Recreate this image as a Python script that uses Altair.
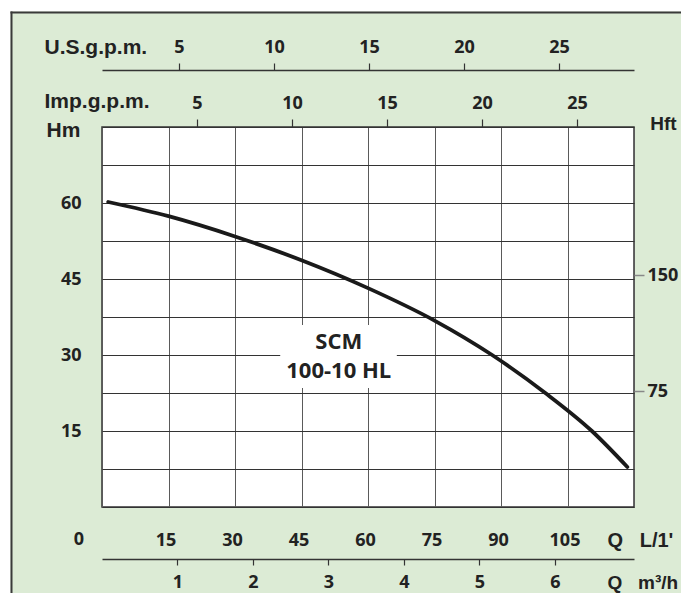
import altair as alt
import pandas as pd

# ---- data ----
flow_lpm = [1.4, 15, 30, 45, 60, 75, 88, 100, 110.5, 118.5]
head_m = [60.2, 57.4, 53.4, 48.7, 43.2, 36.8, 30.0, 22.5, 15.0, 7.9]

lpm_domain = [0, 120]
lpm_grid = [0, 15, 30, 45, 60, 75, 90, 105, 120]
hm_domain = [0, 75]
hm_grid = [0, 7.5, 15, 22.5, 30, 37.5, 45, 52.5, 60, 67.5, 75]
usgpm_domain = [0.95, 28.95]
usgpm_ticks = [5, 10, 15, 20, 25]
impgpm_domain = [0, 28]
impgpm_ticks = [5, 10, 15, 20, 25]
m3h_domain = [0, 7.05]
m3h_ticks = [1, 2, 3, 4, 5, 6]
hft_domain = [0, 246.06]
hft_ticks = [75, 150]

model_label = ["SCM\n100-10 HL"]
label_pos_q = [53.4]
label_pos_h = [32.6]
box_q = [40.2, 66.5]
box_h = [23.5, 35.9]
origin_label = ["0"]

NUM_FONT = "Open Sans"
TITLE_FONT = "Liberation Sans Narrow, Arial Narrow, Liberation Sans"
INK = "#222222"
NB = "\u00a0"

curve_df = pd.DataFrame({"q": flow_lpm, "h": head_m})
dummy = pd.DataFrame({"a": [0]})


def xs():
    return alt.Scale(domain=lpm_domain, nice=False, zero=False)


def ys():
    return alt.Scale(domain=hm_domain, nice=False, zero=False)


x_axis = alt.Axis(
    orient="bottom", values=lpm_grid,
    labelExpr="(datum.value > 0 && datum.value < 120) ? datum.label : ''",
    grid=True, gridColor="#5a5a5a", gridWidth=1,
    ticks=False, tickSize=0, domain=False,
    labelPadding=33, labelBaseline="middle", labelOffset=-3,
    title="Q" + NB * 3 + "L/1'", titleX=505, titleY=33, titleAlign="left",
    titleBaseline="middle", titleAngle=0, titleFontSize=20,
)
y_axis = alt.Axis(
    orient="left", values=hm_grid,
    labelExpr="(datum.value % 15 == 0 && datum.value > 0 && datum.value < 75) ? datum.label : ''",
    grid=True, gridColor="#333333", gridWidth=1,
    ticks=False, tickSize=0, domain=False,
    labelPadding=21, labelBaseline="middle",
    title="Hm", titleX=-39, titleY=3, titleAngle=0,
    titleAlign="center", titleBaseline="middle",
)

# decorations: white page strips and dark frame of the green panel
strip_top = alt.Chart(dummy).mark_rect(color="white").encode(
    x=alt.value(-110), x2=alt.value(700), y=alt.value(-130), y2=alt.value(-115.5))
strip_left = alt.Chart(dummy).mark_rect(color="white").encode(
    x=alt.value(-110), x2=alt.value(-91.5), y=alt.value(-130), y2=alt.value(600))
frame_top = alt.Chart(dummy).mark_rule(color="#3a3a3a", strokeWidth=2).encode(
    x=alt.value(-91.5), x2=alt.value(700), y=alt.value(-114.5))
frame_left = alt.Chart(dummy).mark_rule(color="#3a3a3a", strokeWidth=2).encode(
    x=alt.value(-90.5), y=alt.value(-115.5), y2=alt.value(600))

curve = alt.Chart(curve_df).mark_line(
    color="#1a1a1a", strokeWidth=3.8, interpolate="monotone", strokeCap="round").encode(
    x=alt.X("q:Q", scale=xs(), axis=x_axis),
    y=alt.Y("h:Q", scale=ys(), axis=y_axis),
)

box = alt.Chart(pd.DataFrame({"q1": [box_q[0]], "q2": [box_q[1]],
                              "h1": [box_h[0]], "h2": [box_h[1]]})).mark_rect(
    color="white").encode(
    x=alt.X("q1:Q", scale=xs(), axis=None), x2="q2",
    y=alt.Y("h1:Q", scale=ys(), axis=None), y2="h2")

label = alt.Chart(pd.DataFrame({"q": label_pos_q, "h": label_pos_h, "t": model_label})).mark_text(
    lineBreak="\n", font=NUM_FONT, fontSize=22, fontWeight="bold", color=INK,
    lineHeight=29, baseline="middle", align="center").encode(
    x=alt.X("q:Q", scale=xs(), axis=None),
    y=alt.Y("h:Q", scale=ys(), axis=None),
    text="t:N")

zero = alt.Chart(pd.DataFrame({"q": [0], "h": [0], "t": origin_label})).mark_text(
    font=NUM_FONT, fontSize=18, fontWeight="bold", color=INK,
    dx=-23, dy=33, baseline="middle", align="center").encode(
    x=alt.X("q:Q", scale=xs(), axis=None),
    y=alt.Y("h:Q", scale=ys(), axis=None),
    text="t:N")

m3h_layer = alt.Chart(pd.DataFrame({"v": m3h_domain})).mark_point(opacity=0).encode(
    x=alt.X("v:Q", scale=alt.Scale(domain=m3h_domain, nice=False, zero=False),
            axis=alt.Axis(orient="bottom", offset=52, values=m3h_ticks, grid=False,
                          domain=True, domainColor="#333333", domainWidth=1.5,
                          ticks=True, tickSize=6, tickColor="#333333", tickWidth=1.2,
                          labelPadding=17, labelBaseline="middle",
                          title="Q" + NB * 3 + "m³/h", titleX=505, titleY=23, titleAlign="left",
                          titleBaseline="middle", titleAngle=0, titleFontSize=19)))

us_layer = alt.Chart(pd.DataFrame({"v": usgpm_domain})).mark_point(opacity=0).encode(
    x=alt.X("v:Q", scale=alt.Scale(domain=usgpm_domain, nice=False, zero=False),
            axis=alt.Axis(orient="top", offset=57, values=usgpm_ticks, grid=False,
                          domain=True, domainColor="#333333", domainWidth=1.5,
                          ticks=True, tickSize=7, tickColor="#333333", tickWidth=1.2,
                          labelPadding=16, labelBaseline="middle",
                          title="U.S.g.p.m.", titleX=-58, titleY=-23, titleAlign="left",
                          titleBaseline="middle", titleAngle=0)))

imp_layer = alt.Chart(pd.DataFrame({"v": impgpm_domain})).mark_point(opacity=0).encode(
    x=alt.X("v:Q", scale=alt.Scale(domain=impgpm_domain, nice=False, zero=False),
            axis=alt.Axis(orient="top", offset=0, values=impgpm_ticks, grid=False,
                          domain=False,
                          ticks=True, tickSize=8, tickColor="#333333", tickWidth=1.2,
                          labelPadding=16, labelBaseline="middle",
                          title="Imp.g.p.m.", titleX=-58, titleY=-26, titleAlign="left",
                          titleBaseline="middle", titleAngle=0)))

hft_layer = alt.Chart(pd.DataFrame({"v": hft_domain})).mark_point(opacity=0).encode(
    y=alt.Y("v:Q", scale=alt.Scale(domain=hft_domain, nice=False, zero=False),
            axis=alt.Axis(orient="right", values=hft_ticks, grid=False, domain=False,
                          ticks=True, tickSize=10, tickColor="#888888", tickWidth=1.5,
                          labelPadding=3, labelBaseline="middle", labelAlign="left",
                          title="Hft", titleX=29, titleY=-4, titleAlign="center",
                          titleBaseline="middle", titleAngle=0, titleFontSize=19)))

chart = alt.layer(
    strip_top, strip_left, frame_top, frame_left,
    curve, box, label, zero,
    m3h_layer, us_layer, imp_layer, hft_layer,
).resolve_scale(
    x="independent", y="independent"
).properties(
    width=532, height=380,
    padding={"left": 94, "top": 119, "right": 47, "bottom": 86},
    autosize=alt.AutoSizeParams(type="none"),
    background="#dcebd5",
).configure_view(
    fill="white", stroke="#333333", strokeWidth=1.5
).configure_axis(
    labelFont=NUM_FONT, labelFontSize=18, labelFontWeight="bold", labelColor=INK,
    titleFont=TITLE_FONT, titleFontSize=21, titleFontWeight="bold", titleColor=INK,
    labelOverlap=False,
)

chart.save("out.html", embed_options={"renderer": "svg", "actions": False})
